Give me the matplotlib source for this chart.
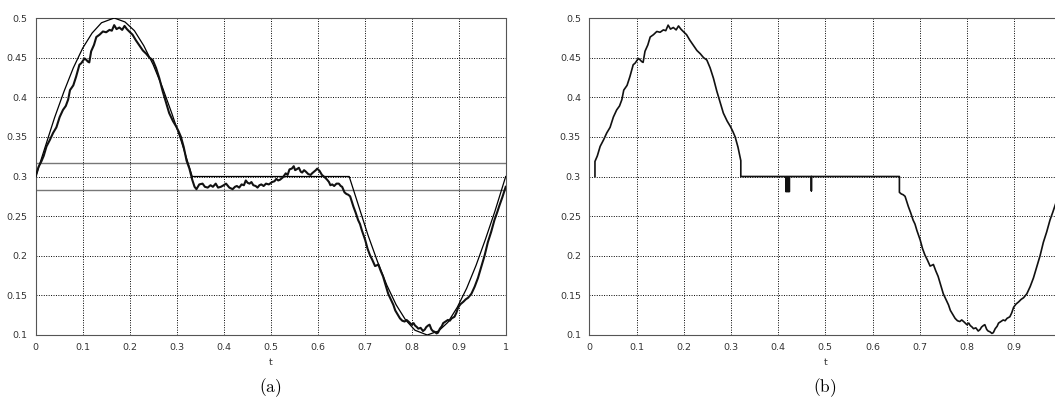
#!/usr/bin/env python3
"""
Two panels: (a) noisy path with reference curve and band, (b) the path with the band clamped to 0.3.
"""

import matplotlib
matplotlib.use('Agg')
import matplotlib.pyplot as plt

# --- reference curve (thin)
smooth_t = [0, 0.02, 0.04, 0.06, 0.08, 0.1, 0.12, 0.14, 0.167, 0.19, 0.21, 0.23, 0.25,
            0.27, 0.29, 0.31, 0.333, 0.667, 0.687, 0.707, 0.727, 0.747, 0.767, 0.787,
            0.807, 0.833, 0.857, 0.877, 0.897, 0.917, 0.937, 0.957, 0.977, 1.0]
smooth_v = [0.3, 0.337, 0.374, 0.407, 0.437, 0.462, 0.481, 0.494, 0.5, 0.495, 0.484, 0.465, 0.441,
            0.412, 0.379, 0.344, 0.3, 0.3, 0.263, 0.226, 0.193, 0.163, 0.138, 0.119,
            0.106, 0.1, 0.105, 0.116, 0.135, 0.159, 0.188, 0.221, 0.256, 0.3]

# band around 0.3
band_levels = [0.2833, 0.3167]

# --- noisy path, in three pieces
start_t = [0.0, 0.006]
start_v = [0.300, 0.312]

hump_t = [0.012, 0.017, 0.023, 0.030, 0.037, 0.044, 0.051, 0.058, 0.064, 0.069, 0.073, 0.080,
          0.086, 0.093, 0.097, 0.104, 0.108, 0.111, 0.114, 0.118, 0.124, 0.129, 0.136, 0.143,
          0.150, 0.157, 0.162, 0.167, 0.172, 0.178, 0.184, 0.189, 0.194, 0.199, 0.206, 0.213,
          0.220, 0.228, 0.235, 0.242, 0.249, 0.256, 0.263, 0.270, 0.277, 0.284, 0.292, 0.299,
          0.304, 0.309, 0.315, 0.321]
hump_v = [0.319, 0.326, 0.338, 0.346, 0.355, 0.362, 0.375, 0.384, 0.389, 0.397, 0.409, 0.415,
          0.426, 0.441, 0.443, 0.449, 0.447, 0.445, 0.444, 0.458, 0.466, 0.476, 0.479, 0.483,
          0.482, 0.485, 0.484, 0.491, 0.486, 0.488, 0.485, 0.490, 0.486, 0.483, 0.479, 0.472,
          0.466, 0.459, 0.455, 0.450, 0.447, 0.437, 0.424, 0.408, 0.394, 0.380, 0.370, 0.363,
          0.357, 0.350, 0.337, 0.320]

flat_t = [0.327, 0.333, 0.338, 0.342, 0.348, 0.355, 0.360, 0.366, 0.372, 0.377, 0.383, 0.388,
          0.394, 0.400, 0.405, 0.412, 0.419, 0.424, 0.428, 0.433, 0.438, 0.443, 0.447, 0.451,
          0.455, 0.459, 0.463, 0.468, 0.472, 0.476, 0.480, 0.485, 0.490, 0.496, 0.503, 0.508,
          0.512, 0.516, 0.520, 0.526, 0.532, 0.536, 0.540, 0.545, 0.549, 0.552, 0.555, 0.560,
          0.564, 0.567, 0.571, 0.575, 0.580, 0.585, 0.588, 0.592, 0.596, 0.599, 0.604, 0.609,
          0.615, 0.620, 0.624, 0.627, 0.631, 0.635, 0.640, 0.645, 0.649, 0.652]
flat_v = [0.310, 0.296, 0.287, 0.284, 0.290, 0.291, 0.287, 0.286, 0.289, 0.287, 0.291, 0.286,
          0.287, 0.289, 0.291, 0.286, 0.284, 0.287, 0.288, 0.286, 0.290, 0.289, 0.295, 0.292,
          0.291, 0.293, 0.289, 0.288, 0.286, 0.289, 0.290, 0.288, 0.291, 0.290, 0.293, 0.294,
          0.297, 0.295, 0.296, 0.299, 0.304, 0.302, 0.309, 0.310, 0.313, 0.308, 0.309, 0.311,
          0.306, 0.305, 0.308, 0.306, 0.303, 0.302, 0.304, 0.306, 0.308, 0.310, 0.307, 0.302,
          0.299, 0.296, 0.293, 0.289, 0.290, 0.288, 0.291, 0.291, 0.288, 0.287]

valley_t = [0.657, 0.661, 0.665, 0.669, 0.676, 0.681, 0.686, 0.690, 0.694, 0.701, 0.706, 0.711,
            0.716, 0.722, 0.726, 0.729, 0.734, 0.739, 0.746, 0.750, 0.754, 0.761, 0.765, 0.768,
            0.775, 0.780, 0.785, 0.789, 0.793, 0.800, 0.804, 0.807, 0.811, 0.814, 0.819, 0.824,
            0.828, 0.831, 0.835, 0.838, 0.842, 0.845, 0.849, 0.853, 0.856, 0.860, 0.864, 0.867,
            0.872, 0.877, 0.881, 0.885, 0.891, 0.895, 0.899, 0.904, 0.910, 0.915, 0.920, 0.927,
            0.934, 0.941, 0.948, 0.955, 0.962, 0.969, 0.976, 0.982, 0.987, 0.993, 1.0]
valley_v = [0.280, 0.278, 0.277, 0.275, 0.262, 0.254, 0.245, 0.240, 0.232, 0.220, 0.209, 0.201,
            0.195, 0.187, 0.188, 0.189, 0.181, 0.174, 0.160, 0.152, 0.147, 0.138, 0.131, 0.128,
            0.121, 0.118, 0.117, 0.119, 0.117, 0.113, 0.115, 0.112, 0.110, 0.108, 0.109, 0.105,
            0.107, 0.110, 0.112, 0.113, 0.107, 0.105, 0.104, 0.102, 0.103, 0.108, 0.111, 0.115,
            0.117, 0.119, 0.118, 0.121, 0.123, 0.128, 0.135, 0.139, 0.142, 0.145, 0.147, 0.152,
            0.161, 0.172, 0.186, 0.200, 0.217, 0.230, 0.245, 0.255, 0.264, 0.274, 0.287]

# --- panel (b): clamped stretch at 0.3 with short downward spikes
clamp_level = 0.3
clamp_start_t = 0.012
clamp_mid_t = [0.321, 0.4165, 0.4165, 0.418, 0.418, 0.4195, 0.4195, 0.421, 0.421, 0.4225,
               0.4225, 0.424, 0.424, 0.4255, 0.4255, 0.4705, 0.4705, 0.4705, 0.657]
clamp_mid_v = [0.3, 0.3, 0.281, 0.281, 0.3, 0.3, 0.281, 0.281, 0.3, 0.3,
               0.281, 0.281, 0.3, 0.3, 0.3, 0.3, 0.282, 0.3, 0.3]

x_ticks = [0, 0.1, 0.2, 0.3, 0.4, 0.5, 0.6, 0.7, 0.8, 0.9, 1]
x_labels_a = ['0', '0.1', '0.2', '0.3', '0.4', '0.5', '0.6', '0.7', '0.8', '0.9', '1']
# the '1' of panel (b) lies past the right edge of the picture
x_labels_b = ['0', '0.1', '0.2', '0.3', '0.4', '0.5', '0.6', '0.7', '0.8', '0.9', '']
y_ticks = [0.1, 0.15, 0.2, 0.25, 0.3, 0.35, 0.4, 0.45, 0.5]
y_labels = ['0.1', '0.15', '0.2', '0.25', '0.3', '0.35', '0.4', '0.45', '0.5']
panel_names = ['(a)', '(b)']


def style_axes(ax, xlabels):
    ax.set_xlim(0, 1)
    ax.set_ylim(0.1, 0.5)
    ax.set_xticks(x_ticks)
    ax.set_xticklabels(xlabels)
    ax.set_yticks(y_ticks)
    ax.set_yticklabels(y_labels)
    ax.tick_params(length=0, labelsize=6.8, labelcolor='#333333', pad=6)
    ax.grid(True, color='black', linestyle=(0, (1, 1.5)), linewidth=0.7)
    for sp in ax.spines.values():
        sp.set_linestyle((0, (1, 1)))
        sp.set_linewidth(0.8)
        sp.set_color('#555555')
    ax.set_xlabel('t', fontsize=6.8, color='#333333', labelpad=4)


def main():
    plt.rcParams['mathtext.fontset'] = 'cm'
    fig = plt.figure(figsize=(10.55, 4.05), dpi=100)
    W, H = 1055.0, 405.0
    bottom = (H - 335) / H
    height = 317 / H
    ax_a = fig.add_axes([35.7 / W, bottom, 470 / W, height])
    ax_b = fig.add_axes([589.3 / W, bottom, 472 / W, height])

    # (a)
    style_axes(ax_a, x_labels_a)
    for lev in band_levels:
        ax_a.axhline(lev, color='#777777', linewidth=1.0, zorder=2)
    ax_a.plot(smooth_t, smooth_v, color='black', linewidth=0.9, zorder=3)
    a_t = start_t + hump_t + flat_t + valley_t
    a_v = start_v + hump_v + flat_v + valley_v
    ax_a.plot(a_t, a_v, color='#111111', linewidth=1.5, zorder=4)

    # (b)
    style_axes(ax_b, x_labels_b)
    b_t = [clamp_start_t] + hump_t + clamp_mid_t + valley_t
    b_v = [clamp_level] + hump_v + clamp_mid_v + valley_v
    ax_b.plot(b_t, b_v, color='#111111', linewidth=1.2, zorder=4)

    for ax, name in zip([ax_a, ax_b], panel_names):
        pos = ax.get_position()
        if ax is ax_b:
            cx = 825 / W
        else:
            cx = pos.x0 + pos.width / 2
        fig.text(cx, (H - 388) / H, r'$\mathrm{' + name + '}$', ha='center', va='center',
                 fontsize=12.5)

    fig.savefig('out.png', dpi=100)
    plt.close(fig)


if __name__ == "__main__":
    main()
